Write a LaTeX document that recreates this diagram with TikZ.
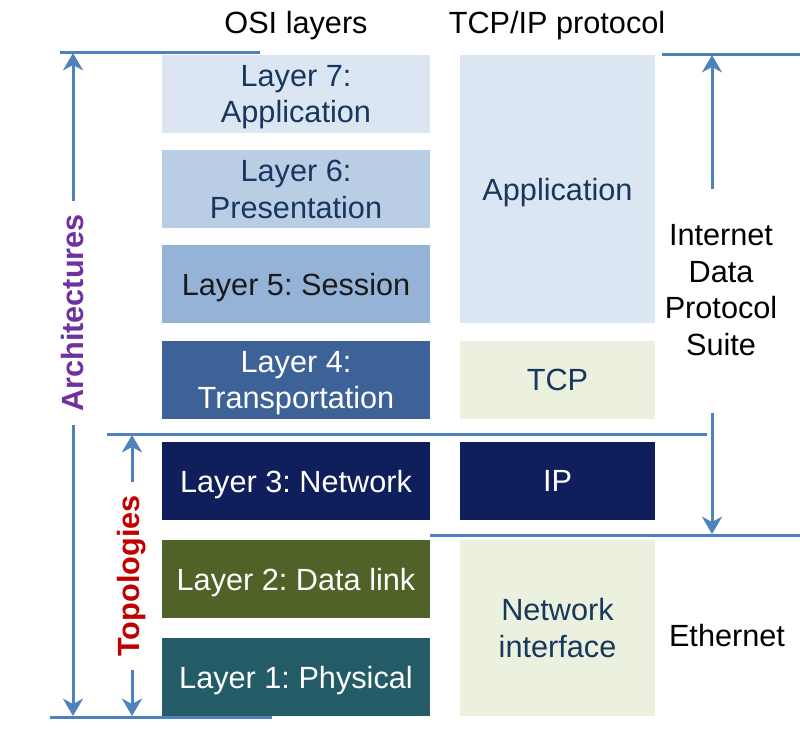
\documentclass[tikz,border=0pt]{standalone}
\usepackage{fontspec}
\setmainfont{Liberation Sans}
\frenchspacing
\usetikzlibrary{%
    arrows.meta,
    positioning
}

\definecolor{ruleblue}{HTML}{4F81BD}
\definecolor{osiseven}{HTML}{DCE6F2}
\definecolor{osisix}{HTML}{B9CDE5}
\definecolor{osifive}{HTML}{95B3D7}
\definecolor{osifour}{HTML}{3C6298}
\definecolor{osinavy}{HTML}{0E1F5B}
\definecolor{osiolive}{HTML}{4F6228}
\definecolor{ositeal}{HTML}{235B67}
\definecolor{tcpgreen}{HTML}{EBF1DE}
\definecolor{inkdark}{HTML}{17375E}
\definecolor{inkblack}{HTML}{1A1A1A}
\definecolor{archpurple}{HTML}{7030A0}
\definecolor{topored}{HTML}{C00000}

\newcommand\layerfont{\fontsize{23}{27.5}\selectfont}

\tikzset{
    layer/.style={minimum width=201pt, minimum height=58.5pt, inner sep=0pt,
                  align=center, text depth=0pt, font=\layerfont},
    proto/.style={layer, minimum width=146.25pt},
    rule/.style={draw=ruleblue, line width=2.25pt},
    arr/.style={rule, -{Stealth[length=13pt, width=15pt, inset=4pt]}},
    side/.style={rotate=90, inner xsep=10pt, font=\layerfont\bfseries}
}

\begin{document}
\begin{tikzpicture}[x=0.75pt, y=-0.75pt]
    \useasboundingbox (0,0) rectangle (800,738);

    % column heads
    \node[font=\layerfont, text depth=0pt] (osihead) at (296,22) {OSI layers};
    \node[font=\layerfont, text depth=0pt] (tcphead) at (557,22) {TCP/IP protocol};

    % OSI stack
    \foreach \Name/\Y/\Fill/\Ink/\Text in {%
        l7/94/osiseven/inkdark/{Layer 7:\\Application},
        l6/189/osisix/inkdark/{Layer 6:\\Presentation},
        l5/284/osifive/inkblack/{Layer 5: Session},
        l4/380/osifour/white/{Layer 4:\\Transportation},
        l3/481/osinavy/white/{Layer 3: Network},
        l2/579/osiolive/white/{Layer 2: Data link},
        l1/677/ositeal/white/{Layer 1: Physical}%
        }
        \node[layer, fill=\Fill, text=\Ink] (\Name) at (296,\Y) {\Text};

    % TCP/IP stack
    \node[proto, minimum height=201pt, fill=osiseven, text=inkdark]
        (app) at (557.5,189) {Application};
    \node[proto, fill=tcpgreen, text=inkdark] (tcp) at (557.5,380) {TCP};
    \node[proto, fill=osinavy, text=white] (ip) at (557.5,481) {IP};
    \node[proto, minimum height=132pt, fill=tcpgreen, text=inkdark]
        (ni) at (557.5,628) {Network\\interface};

    % rules
    \draw[rule] (60,53) -- (260,53);
    \draw[rule] (662,55) -- (800,55);
    \draw[rule] (107,434) -- (707,434);
    \draw[rule] (430,535) -- (800,535);
    \draw[rule] (50,717) -- (272,717);

    % spans
    \coordinate (archtop) at (73,53);
    \coordinate (archbot) at (73,716);
    \coordinate (topotop) at (132,435);
    \coordinate (topobot) at (132,716);
    \coordinate (suitetop) at (712,55);
    \coordinate (suitebot) at (712,534);

    \node[side, text=archpurple] (arch) at (73,313) {Architectures};
    \node[side, text=topored] (topo) at (132,576) {Topologies};
    \node[font=\layerfont, align=center, inner ysep=0pt] (suite) at (721,290)
        {Internet\\Data\\Protocol\\Suite};
    \node[font=\layerfont] (eth) at (727,636) {Ethernet};

    \draw[arr] (arch.east) -- (archtop);
    \draw[arr] (arch.west) -- (archbot);
    \draw[arr] (topo.east) -- (topotop);
    \draw[arr] (topo.west) -- (topobot);
    \draw[arr, shorten <=26pt] (suite.north -| suitetop) -- (suitetop);
    \draw[arr, shorten <=43pt] (suite.south -| suitebot) -- (suitebot);
\end{tikzpicture}
\end{document}
